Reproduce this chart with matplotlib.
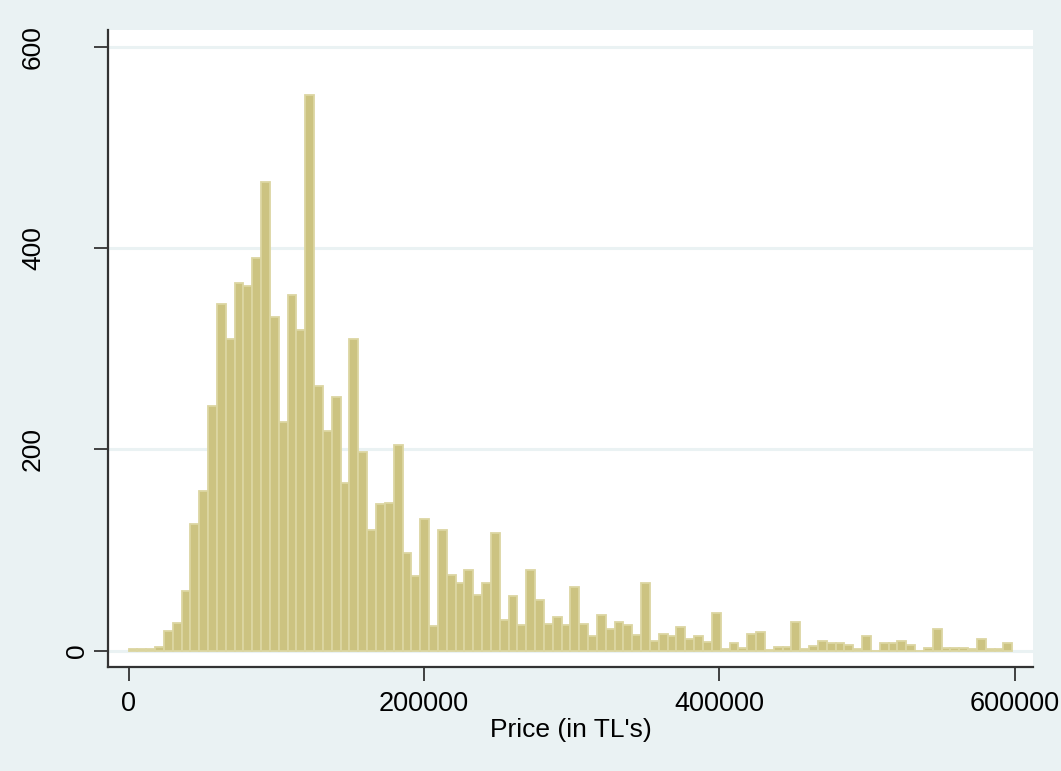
import matplotlib

matplotlib.use("Agg")
import matplotlib.pyplot as plt
import matplotlib.transforms as mtransforms
import numpy as np

plt.rcParams.update(
    {
        "font.family": ["Liberation Sans", "DejaVu Sans"],
        "font.size": 19,
    }
)

# histogram of prices: 100 bins starting at 0
BIN_START = 0
BIN_WIDTH = 5982
FREQUENCIES = [
    2, 2, 2, 4, 20, 28, 59, 126, 159, 243,
    344, 310, 365, 362, 390, 466, 331, 227, 353, 319,
    552, 263, 218, 252, 167, 310, 197, 120, 146, 147,
    204, 97, 74, 131, 25, 120, 75, 67, 80, 55,
    67, 117, 31, 54, 26, 80, 50, 27, 34, 26,
    63, 27, 15, 36, 22, 29, 26, 16, 67, 10,
    17, 15, 24, 12, 15, 9, 38, 2, 8, 3,
    17, 19, 1, 4, 4, 29, 2, 5, 10, 8,
    8, 6, 2, 15, 0, 8, 8, 10, 6, 0,
    3, 22, 3, 3, 3, 2, 12, 2, 2, 8,
]
X_TICKS = [0, 200000, 400000, 600000]
Y_TICKS = [0, 200, 400, 600]
X_LABEL = "Price (in TL's)"

BG_COLOR = "#EAF2F3"
GRID_COLOR = "#EAF2F3"
BAR_FILL = "#CCC381"
BAR_EDGE = "#DCD6A2"
AXIS_COLOR = "#333333"


def main() -> None:
    fig = plt.figure(figsize=(10.61, 7.71), dpi=100)
    fig.patch.set_facecolor(BG_COLOR)
    ax = fig.add_axes((108 / 1061, 1 - 667 / 771, 925 / 1061, 637 / 771))
    ax.set_facecolor("white")

    heights = np.array(FREQUENCIES, dtype=float)
    lefts = BIN_START + BIN_WIDTH * np.arange(len(heights))
    ax.bar(
        lefts,
        heights,
        width=BIN_WIDTH,
        align="edge",
        color=BAR_FILL,
        edgecolor=BAR_EDGE,
        linewidth=1.3,
        zorder=3,
    )

    ax.set_xlim(-13900, 612200)
    ax.set_ylim(-16.1, 616.5)
    ax.set_xticks(X_TICKS)
    ax.set_xticklabels([str(t) for t in X_TICKS])
    ax.set_yticks(Y_TICKS)
    ax.set_yticklabels([])

    # stata-style vertical labels: longer labels sit further from the axis
    trans = mtransforms.blended_transform_factory(ax.transAxes, ax.transData)
    for y in Y_TICKS:
        label = str(y)
        shift = 31 + 22 * (len(label) - 1)
        offset = mtransforms.ScaledTranslation(-shift / 100, 0, fig.dpi_scale_trans)
        ax.text(0, y, label, rotation=90, ha="center", va="center", fontsize=19,
                transform=trans + offset, clip_on=False)

    for y in Y_TICKS:
        ax.axhline(y, color=GRID_COLOR, linewidth=2.2, zorder=1)

    for side in ("top", "right"):
        ax.spines[side].set_visible(False)
    for side in ("left", "bottom"):
        ax.spines[side].set_color(AXIS_COLOR)
        ax.spines[side].set_linewidth(1.6)

    ax.tick_params(axis="both", direction="out", length=10, width=1.3, color=AXIS_COLOR,
                   colors="black")
    ax.tick_params(axis="x", pad=7, labelsize=19.5)
    ax.set_xlabel(X_LABEL, labelpad=1)

    fig.savefig("out.png", dpi=100, facecolor=fig.get_facecolor())
    plt.close(fig)


if __name__ == "__main__":
    main()
